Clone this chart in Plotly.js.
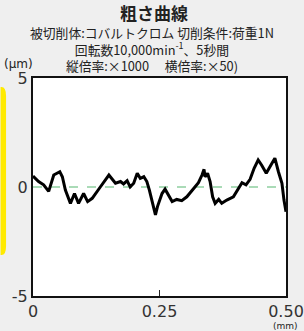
<!DOCTYPE html>
<html><head><meta charset="utf-8">
<script src="https://cdn.plot.ly/plotly-3.0.1.min.js"></script>
<style>html,body{margin:0;padding:0;background:#efefef;}#chart{width:304px;height:331px;}</style>
</head><body><div id="chart"></div>
<script>
// Roughness profile: position (mm) and height (µm)
var positionMm = [0.000,0.011,0.021,0.031,0.041,0.053,0.058,0.064,0.074,0.082,0.090,0.100,0.108,0.117,0.133,0.150,0.163,0.173,0.179,0.186,0.192,0.199,0.206,0.212,0.219,0.225,0.230,0.237,0.242,0.246,0.250,0.255,0.261,0.268,0.275,0.284,0.294,0.304,0.317,0.327,0.334,0.338,0.340,0.345,0.350,0.355,0.360,0.367,0.373,0.383,0.396,0.404,0.413,0.421,0.429,0.437,0.445,0.452,0.461,0.470,0.478,0.485,0.492,0.496,0.500];
var heightUm = [0.50,0.25,0.10,-0.20,0.55,0.70,0.47,-0.14,-0.75,-0.30,-0.75,-0.30,-0.67,-0.52,0.00,0.55,0.17,0.25,0.14,0.29,0.00,0.17,0.63,0.40,0.47,0.25,-0.14,-0.75,-1.28,-0.90,-0.67,-0.30,-0.10,-0.37,-0.67,-0.57,-0.63,-0.45,-0.06,0.20,0.55,0.81,0.47,0.63,0.25,-0.45,-0.75,-0.57,-0.75,-0.60,-0.45,-0.14,0.20,0.10,0.35,0.86,1.24,1.00,0.63,1.00,1.32,0.70,0.17,-0.60,-1.13];
var xTickVals = [0, 0.25, 0.5];
var xTickText = ['0', '0.25', '0.50'];
var yTickVals = [-5, 0, 5];
var yTickText = ['-5', '0', '5'];
var titleText = '<b>粗さ曲線</b>';
var subLines = ['被切削体:コバルトクロム 切削条件:荷重1N', '回転数10,000min<sup>-1</sup>、5秒間', '縦倍率:×1000　 横倍率:×50)'];

var jp = '"Noto Sans CJK JP", "Noto Sans", sans-serif';
var num = '"DejaVu Sans", Arial, sans-serif';

var traces = [
  {x: [0, 0.5], y: [0, 0], mode: 'lines', line: {color: '#8fd0a0', width: 1.5, dash: 'dash'}, hoverinfo: 'skip'},
  {x: positionMm, y: heightUm, mode: 'lines', line: {color: '#000', width: 3, shape: 'linear'}}
];

var plotW = 304 - 32.5 - 18, plotH = 331 - 78 - 35;
function px(x) { return (x - 32.5) / plotW; }
function py(y) { return (331 - 35 - y) / plotH; }

var layout = {
  width: 304, height: 331,
  paper_bgcolor: '#efefef', plot_bgcolor: '#ffffff',
  margin: {l: 32.5, r: 18, t: 78, b: 35},
  showlegend: false,
  xaxis: {range: [0, 0.5], tickvals: xTickVals, ticktext: xTickText, ticks: 'inside', ticklen: 6, tickcolor: '#222',
    showgrid: false, zeroline: false, showline: true, linecolor: '#111', linewidth: 2, mirror: true,
    tickfont: {family: num, size: 16, color: '#333'}, fixedrange: true},
  yaxis: {range: [-5, 5], tickvals: yTickVals, ticktext: yTickText, ticks: '',
    showgrid: false, zeroline: false, showline: true, linecolor: '#111', linewidth: 2, mirror: true,
    tickfont: {family: num, size: 16, color: '#333'}, fixedrange: true},
  shapes: [
    {type: 'path', xref: 'paper', yref: 'paper', layer: 'below', fillcolor: '#ffea00', line: {width: 0},
     path: 'M ' + px(0) + ' ' + py(87) + ' L ' + px(1) + ' ' + py(87) + ' Q ' + px(5.5) + ' ' + py(87) + ' ' + px(5.5) + ' ' + py(96) +
           ' L ' + px(5.5) + ' ' + py(246) + ' Q ' + px(5.5) + ' ' + py(255) + ' ' + px(1) + ' ' + py(255) + ' L ' + px(0) + ' ' + py(255) + ' Z'}
  ],
  annotations: [
    {text: titleText, x: px(154), xref: 'paper', y: py(13), yref: 'paper', showarrow: false, xanchor: 'center', yanchor: 'middle', borderpad: 0, font: {family: jp, size: 17, color: '#222'}},
    {text: subLines.join('<br>'), x: px(152), xref: 'paper', y: py(49.5), yref: 'paper', showarrow: false, xanchor: 'center', yanchor: 'middle', align: 'center', borderpad: 0, font: {family: jp, size: 12.8, color: '#222'}},
    {text: '(µm)', x: px(2), xref: 'paper', y: py(64), yref: 'paper', showarrow: false, xanchor: 'left', yanchor: 'middle', borderpad: 0, font: {family: num, size: 12, color: '#222'}},
    {text: '(mm)', x: px(285), xref: 'paper', y: py(326), yref: 'paper', showarrow: false, xanchor: 'center', yanchor: 'middle', borderpad: 0, font: {family: num, size: 9, color: '#222'}}
  ]
};

Plotly.newPlot('chart', traces, layout, {staticPlot: true, displayModeBar: false});
</script></body></html>
